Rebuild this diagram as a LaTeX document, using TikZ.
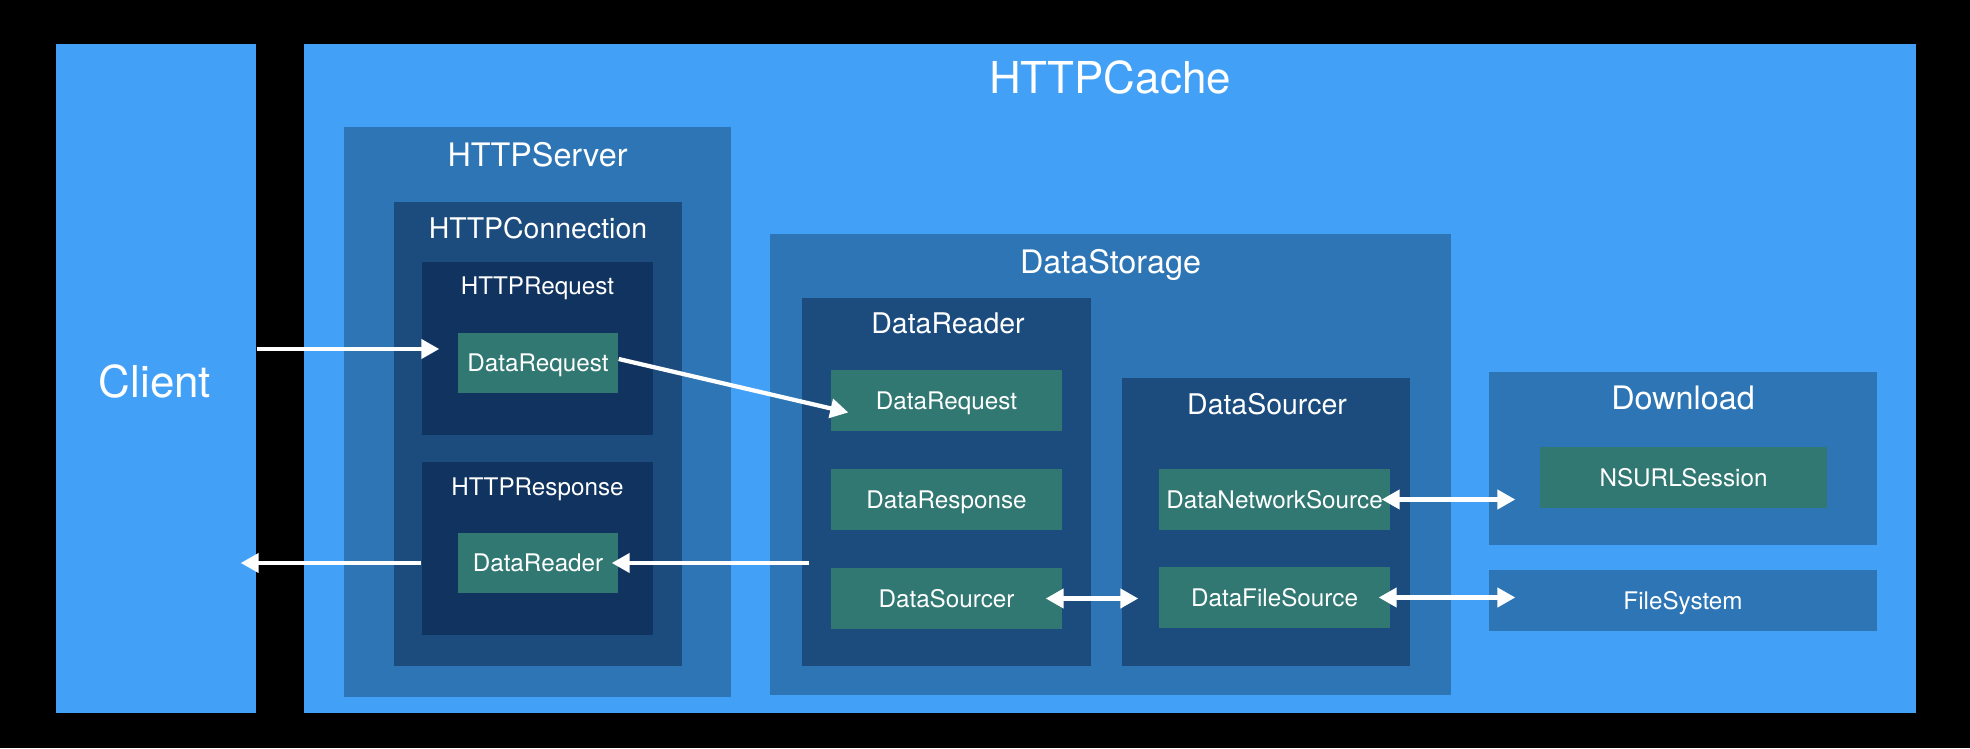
\documentclass[tikz,border=0pt]{standalone}
\usepackage{fontspec}
\setmainfont{TeX Gyre Heros}
\usepackage{xcolor}
\usetikzlibrary{positioning,arrows.meta}

\definecolor{lightblue}{HTML}{42A1F7}
\definecolor{midblue}{HTML}{2D75B4}
\definecolor{darkblue}{HTML}{1C4C7D}
\definecolor{deepblue}{HTML}{11335F}
\definecolor{teal}{HTML}{317873}

\begin{document}
\begin{tikzpicture}[
    layer/.style={rectangle, inner sep=0pt, text=white, text height=5.0pt, text depth=0pt},
    cache/.style={layer, fill=lightblue},
    outer/.style={layer, fill=midblue},
    inner/.style={layer, fill=darkblue},
    deep/.style={layer, fill=deepblue},
    item/.style={layer, fill=teal, minimum height=0.61cm, font=\fontsize{6.9}{8}\selectfont},
    label/.style={text=white, inner sep=0pt, text depth=0pt},
    bigtitle/.style={label, text height=9.0pt, font=\fontsize{12.5}{15}\selectfont},
    title/.style={label, text height=6.6pt, font=\fontsize{9.2}{11}\selectfont},
    subtitle/.style={label, text height=5.8pt, font=\fontsize{8.1}{10}\selectfont},
    small/.style={label, text height=5.0pt, font=\fontsize{6.9}{8}\selectfont},
    flow/.style={draw=white, line width=1.2pt, -{Triangle[length=0.18cm,width=0.19cm]}},
    both/.style={draw=white, line width=1.2pt, {Triangle[length=0.18cm,width=0.19cm]}-{Triangle[length=0.18cm,width=0.19cm]}}
]
    % background
    \fill [black] (0,0) rectangle (19.70,7.48);
    \useasboundingbox (0,0) rectangle (19.70,7.48);

    % Client
    \node [cache, minimum width=2.00cm, minimum height=6.69cm] (client) at (1.56,3.695) {};
    \node [bigtitle] (clientlbl) at (1.55,3.66) {Client};

    % HTTPCache
    \node [cache, minimum width=16.12cm, minimum height=6.69cm] (cache) at (11.10,3.695) {};
    \node [bigtitle] (cachelbl) at (11.10,6.70) {HTTPCache};

    % HTTPServer
    \node [outer, minimum width=3.87cm, minimum height=5.70cm] (server) at (5.375,3.36) {};
    \node [title] (serverlbl) at (5.375,5.93) {HTTPServer};
    \node [inner, minimum width=2.88cm, minimum height=4.64cm] (conn) at (5.38,3.14) {};
    \node [subtitle] (connlbl) at (5.38,5.20) {HTTPConnection};

    % HTTPRequest
    \node [deep, minimum width=2.31cm, minimum height=1.73cm] (httpreq) at (5.375,3.995) {};
    \node [small] (httpreqlbl) at (5.375,4.62) {HTTPRequest};
    \node [item, minimum width=1.60cm, minimum height=0.60cm] (reqA) at (5.38,3.85) {DataRequest};

    % HTTPResponse
    \node [deep, minimum width=2.31cm, minimum height=1.73cm] (httpres) at (5.375,1.995) {};
    \node [small] (httpreslbl) at (5.375,2.61) {HTTPResponse};
    \node [item, minimum width=1.60cm, minimum height=0.60cm] (readA) at (5.38,1.85) {DataReader};

    % DataStorage
    \node [outer, minimum width=6.81cm, minimum height=4.61cm] (storage) at (11.105,2.835) {};
    \node [title] (storagelbl) at (11.105,4.86) {DataStorage};

    % DataReader
    \node [inner, minimum width=2.89cm, minimum height=3.68cm] (reader) at (9.465,2.66) {};
    \node [subtitle] (readerlbl) at (9.48,4.25) {DataReader};
    \node [item, minimum width=2.31cm] (reqB) at (9.465,3.475) {DataRequest};
    \node [item, minimum width=2.31cm] (resB) at (9.465,2.485) {DataResponse};
    \node [item, minimum width=2.31cm] (srcB) at (9.465,1.495) {DataSourcer};

    % DataSourcer
    \node [inner, minimum width=2.88cm, minimum height=2.88cm] (sourcer) at (12.66,2.26) {};
    \node [subtitle] (sourcerlbl) at (12.67,3.44) {DataSourcer};
    \node [item, minimum width=2.31cm] (netS) at (12.745,2.485) {DataNetworkSource};
    \node [item, minimum width=2.31cm] (fileS) at (12.745,1.505) {DataFileSource};

    % Download
    \node [outer, minimum width=3.88cm, minimum height=1.73cm] (download) at (16.83,2.895) {};
    \node [title] (downloadlbl) at (16.83,3.50) {Download};
    \node [item, minimum width=2.87cm] (session) at (16.835,2.705) {NSURLSession};

    % FileSystem
    \node [outer, minimum width=3.88cm, minimum height=0.61cm, font=\fontsize{6.9}{8}\selectfont] (filesys) at (16.83,1.475) {FileSystem};

    % arrows
    \draw [flow] ([yshift=0.14cm]reqA.west -| client.east) -- ([xshift=-0.18cm,yshift=0.14cm]reqA.west);
    \draw [flow] ([yshift=0.04cm]reqA.east) -- ([xshift=0.18cm,yshift=-0.12cm]reqB.west);
    \draw [flow] ([xshift=0.08cm]reader.west |- readA.east) -- ([xshift=-0.07cm]readA.east);
    \draw [flow] (httpres.west |- readA.west) -- ([xshift=-0.16cm]client.east |- readA.west);
    \draw [both] ([xshift=-0.17cm]srcB.east) -- ([xshift=-0.20cm]fileS.west |- srcB.east);
    \draw [both] ([xshift=-0.09cm]netS.east) -- ([xshift=-0.24cm]session.west |- netS.east);
    \draw [both] ([xshift=-0.12cm]fileS.east) -- ([xshift=0.27cm]filesys.west |- fileS.east);

\end{tikzpicture}
\end{document}
